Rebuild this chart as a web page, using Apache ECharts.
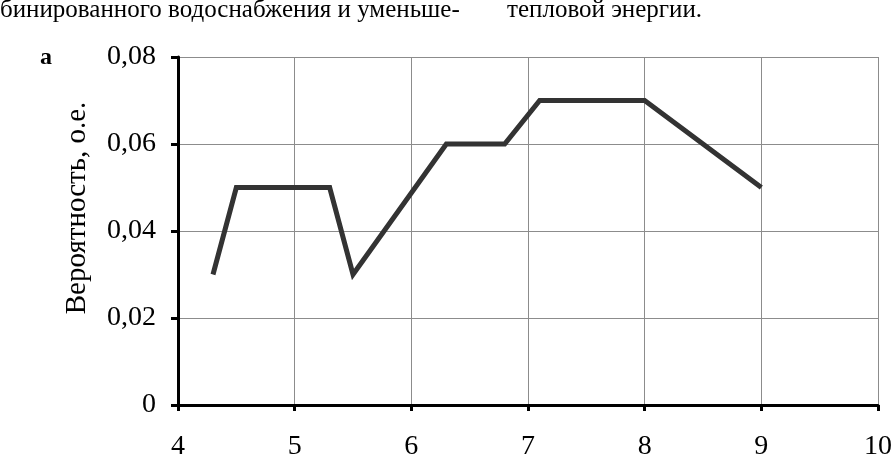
<!DOCTYPE html>
<html>
<head>
<meta charset="utf-8">
<script src="https://cdn.jsdelivr.net/npm/echarts@6/dist/echarts.min.js"></script>
<style>
  html, body { margin: 0; padding: 0; background: #fff; }
  #chart { width: 895px; height: 461px; }
</style>
</head>
<body>
<div id="chart"></div>
<script>
// данные графика
const xValues = [4.3, 4.5, 5.3, 5.5, 6.3, 6.8, 7.1, 8, 9];
const probValues = [0.03, 0.05, 0.05, 0.03, 0.06, 0.06, 0.07, 0.07, 0.05];
const yTicks = [0, 0.02, 0.04, 0.06, 0.08];
const xTicks = [4, 5, 6, 7, 8, 9, 10];

const font = '"Liberation Serif", "DejaVu Serif", serif';

const myChart = echarts.init(document.getElementById('chart'));

const option = {
  animation: false,
  grid: { left: 178, right: 15, top: 57, bottom: 55, containLabel: false },
  graphic: [
    {
      type: 'text', left: 0, top: -2,
      style: { text: 'бинированного водоснабжения и уменьше-', font: '25px ' + font, fill: '#000' }
    },
    {
      type: 'text', left: 507, top: -2,
      style: { text: 'тепловой энергии.', font: '25px ' + font, fill: '#000' }
    },
    {
      type: 'text', left: 40, top: 46,
      style: { text: 'а', font: 'bold 24px ' + font, fill: '#000' }
    },
    {
      // подпись оси Y
      type: 'text', x: 77, y: 208, rotation: Math.PI / 2,
      style: {
        text: 'Вероятность, о.е.', font: '29px ' + font, fill: '#000',
        align: 'center', verticalAlign: 'middle'
      }
    }
  ],
  xAxis: {
    type: 'value',
    min: xTicks[0],
    max: xTicks[xTicks.length - 1],
    interval: 1,
    axisLine: { show: true, onZero: false, lineStyle: { color: '#000', width: 3 } },
    axisTick: { show: true, length: 6, lineStyle: { color: '#000', width: 3 } },
    axisLabel: { color: '#000', fontFamily: font, fontSize: 28, margin: 28 },
    splitLine: { show: true, lineStyle: { color: '#8c8c8c', width: 1 } }
  },
  yAxis: {
    type: 'value',
    min: yTicks[0],
    max: yTicks[yTicks.length - 1],
    interval: 0.02,
    axisLine: { show: true, lineStyle: { color: '#000', width: 3 } },
    axisTick: { show: true, length: 7, lineStyle: { color: '#000', width: 3 } },
    axisLabel: {
      color: '#000', fontFamily: font, fontSize: 28, margin: 22,
      formatter: v => v === 0 ? '0' : v.toFixed(2).replace('.', ',')
    },
    splitLine: { show: true, lineStyle: { color: '#8c8c8c', width: 1 } }
  },
  series: [
    {
      type: 'line',
      data: xValues.map((x, i) => [x, probValues[i]]),
      showSymbol: false,
      lineStyle: { color: '#333333', width: 5, join: 'miter' }
    }
  ]
};

myChart.setOption(option);
</script>
</body>
</html>
